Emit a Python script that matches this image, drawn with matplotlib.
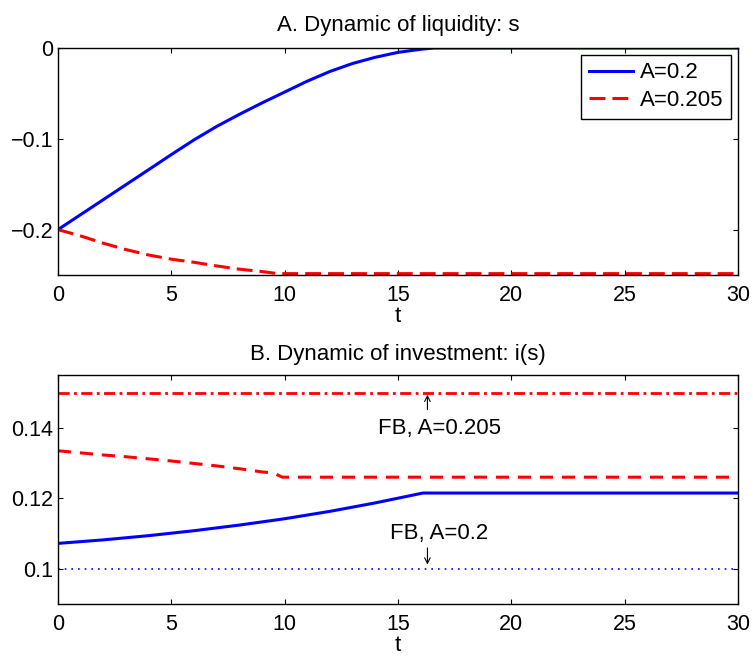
import numpy as np
import matplotlib
matplotlib.use("Agg")
import matplotlib.pyplot as plt

plt.rcParams['font.family'] = ['Liberation Sans', 'DejaVu Sans']

# Panel A: liquidity s(t)
t_s_low = [0, 1, 2, 3, 4, 5, 6, 7, 8, 9, 10, 11, 12, 13, 14, 15, 16, 16.6, 30]
s_low = [-0.200, -0.1835, -0.1670, -0.1505, -0.1340, -0.1174, -0.1012, -0.0864, -0.0731,
         -0.0605, -0.0485, -0.0365, -0.0258, -0.0170, -0.0102, -0.0048, -0.0014, 0.0, 0.0]
t_s_high = [0, 1, 2, 3, 4, 5, 6, 7, 8, 9, 9.7, 30]
s_high = [-0.200, -0.207, -0.215, -0.222, -0.228, -0.2326, -0.236, -0.240, -0.2436,
          -0.2462, -0.2485, -0.2485]

# Panel B: investment i(s)
t_i_low = [0, 2, 4, 6, 8, 10, 12, 14, 16.1, 30]
i_low = [0.1072, 0.1082, 0.1094, 0.1108, 0.1124, 0.1142, 0.1163, 0.1187, 0.1215, 0.1215]
t_i_high = [0, 1, 2, 3, 4, 5, 6, 7, 8, 9, 9.5, 9.9, 30]
i_high = [0.1335, 0.1329, 0.1323, 0.1318, 0.1312, 0.1306, 0.1299, 0.1292, 0.1284,
          0.1275, 0.1272, 0.1260, 0.1260]
fb_low = 0.10
fb_high = 0.15
t_range = [0, 30]

BLUE = (0, 0, 1)
RED = (1, 0, 0)

fig = plt.figure(figsize=(7.53, 6.56), dpi=100)
ax1 = fig.add_axes([0.077, 0.5808, 0.903, 0.346])
ax2 = fig.add_axes([0.077, 0.0793, 0.903, 0.349])

ax1.plot(t_s_low, s_low, color=BLUE, lw=2.2, label='A=0.2')
ax1.plot(t_s_high, s_high, color=RED, lw=2.2, linestyle=(0, (5.2, 2.3)), label='A=0.205')
ax1.set_xlim(0, 30)
ax1.set_ylim(-0.25, 0)
ax1.set_yticks([-0.2, -0.1, 0])
ax1.set_yticklabels(['\u22120.2', '\u22120.1', '0'])
ax1.set_title('A. Dynamic of liquidity: s', fontsize=16, pad=12)
ax1.set_xlabel('t', fontsize=16, labelpad=0)
leg = ax1.legend(loc='upper right', fontsize=16, fancybox=False, framealpha=1,
                 edgecolor='black', handlelength=2.0, borderaxespad=0.3,
                 handletextpad=0.3, labelspacing=0.3, borderpad=0.35)
leg.get_frame().set_linewidth(1.0)

ax2.plot(t_range, [fb_high, fb_high], color=RED, lw=2.0, linestyle=(0, (4, 1.6, 1, 1.6)))
ax2.plot(t_range, [fb_low, fb_low], color=BLUE, lw=1.2, linestyle=(0, (1, 3)))
ax2.plot(t_i_high, i_high, color=RED, lw=2.2, linestyle=(0, (4.3, 2.9)))
ax2.plot(t_i_low, i_low, color=BLUE, lw=2.2)
ax2.set_xlim(0, 30)
ax2.set_ylim(0.09, 0.155)
ax2.set_yticks([0.1, 0.12, 0.14])
ax2.set_yticklabels(['0.1', '0.12', '0.14'])
ax2.set_title('B. Dynamic of investment: i(s)', fontsize=16, pad=11)
ax2.set_xlabel('t', fontsize=16, labelpad=0)

ax2.annotate('', xy=(16.3, 0.1502), xytext=(16.3, 0.1444),
             arrowprops=dict(arrowstyle='->', color='black', lw=0.8))
ax2.text(16.85, 0.1397, 'FB, A=0.205', fontsize=16, ha='center', va='center')
ax2.annotate('', xy=(16.3, 0.1004), xytext=(16.3, 0.1067),
             arrowprops=dict(arrowstyle='->', color='black', lw=0.8))
ax2.text(16.8, 0.1101, 'FB, A=0.2', fontsize=16, ha='center', va='center')

for ax in (ax1, ax2):
    ax.set_xticks([0, 5, 10, 15, 20, 25, 30])
    ax.tick_params(direction='in', top=True, right=True, length=3.6, width=0.8,
                   labelsize=15.5)
    ax.tick_params(axis='x', pad=7)
    ax.tick_params(axis='y', pad=3.5)
    for sp in ax.spines.values():
        sp.set_linewidth(1.0)

fig.savefig('out.png', dpi=100)
